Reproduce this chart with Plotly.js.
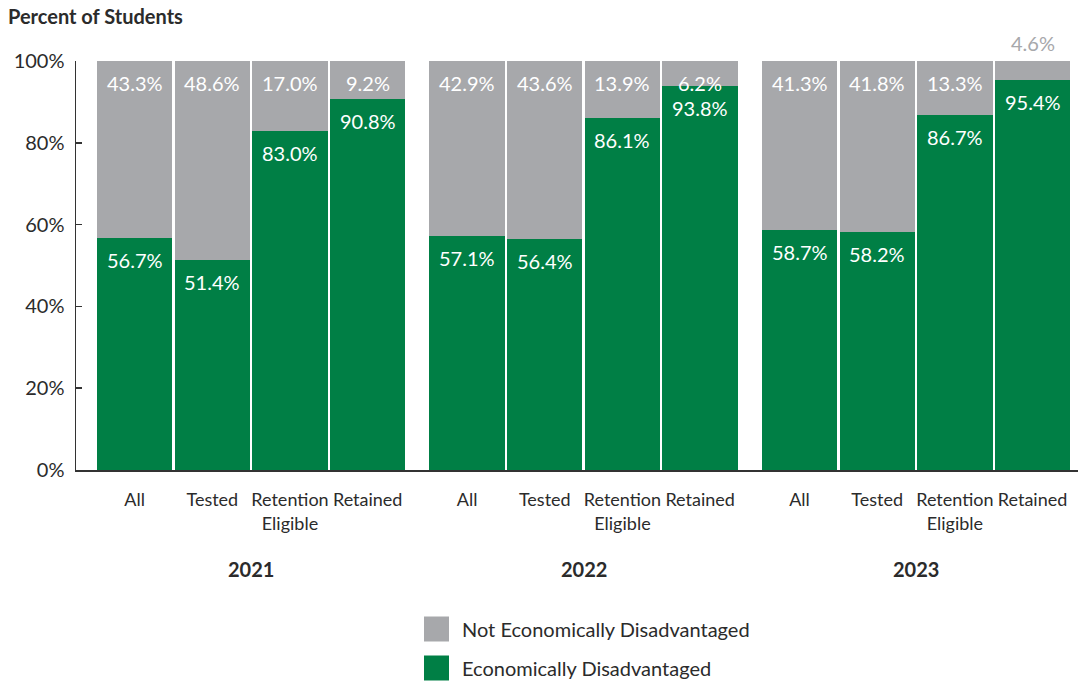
<!DOCTYPE html>
<html><head><meta charset="utf-8">
<script src="https://cdn.plot.ly/plotly-3.0.1.min.js"></script>
<style>html,body{margin:0;padding:0;background:#fff}#chart{width:1078px;height:681px}</style>
</head><body><div id="chart"></div>
<script>
var years = ["2021", "2022", "2023"];
var groups = ["All", "Tested", "Retention<br>Eligible", "Retained"];
var econDis = [56.7, 51.4, 83.0, 90.8, 57.1, 56.4, 86.1, 93.8, 58.7, 58.2, 86.7, 95.4];
var notEconDis = [43.3, 48.6, 17.0, 9.2, 42.9, 43.6, 13.9, 6.2, 41.3, 41.8, 13.3, 4.6];
var seriesNames = ["Economically Disadvantaged", "Not Economically Disadvantaged"];

var GREEN = "#007F45", GRAY = "#A7A8AB", TXT = "#2b2b2b";
var GROUP_STEP = 4.28, BAR_W = 0.97;
var xs = [], ticktext = [];
years.forEach(function (y, g) {
  groups.forEach(function (c, i) { xs.push(g * GROUP_STEP + i); ticktext.push(c); });
});

var traces = [
  {type: "bar", name: seriesNames[0], x: xs, y: econDis, width: BAR_W, marker: {color: GREEN}, showlegend: false, hoverinfo: "y"},
  {type: "bar", name: seriesNames[1], x: xs, y: notEconDis, width: BAR_W, marker: {color: GRAY}, showlegend: false, hoverinfo: "y"}
];

var ann = [];
var FONT = "Lato, 'Open Sans', sans-serif";
var FS = 20;
xs.forEach(function (x, k) {
  ann.push({x: x, y: econDis[k], xref: "x", yref: "y", text: econDis[k].toFixed(1) + "%", showarrow: false,
    yanchor: "top", yshift: -8, font: {family: FONT, size: FS, color: "#ffffff"}});
  var top = econDis[k] + notEconDis[k];
  if (notEconDis[k] < 6) {
    ann.push({x: x, y: top, xref: "x", yref: "y", text: notEconDis[k].toFixed(1) + "%", showarrow: false,
      yanchor: "bottom", yshift: 4, font: {family: FONT, size: FS, color: GRAY}});
  } else {
    ann.push({x: x, y: top, xref: "x", yref: "y", text: notEconDis[k].toFixed(1) + "%", showarrow: false,
      yanchor: "top", yshift: -8, font: {family: FONT, size: FS, color: "#ffffff"}});
  }
});
years.forEach(function (y, g) {
  ann.push({x: g * GROUP_STEP + 1.5, y: -0.242, xref: "x", yref: "paper", text: "<b>" + y + "</b>", showarrow: false,
    yanchor: "middle", font: {family: FONT, size: 20, color: TXT}});
});

// legend (manual)
var L = 76, PW = 1002, T = 61, PH = 409;
function px(x) { return (x - L) / PW; }
function py(y) { return (T + PH - y) / PH; }
var legendItems = [{name: seriesNames[1], color: GRAY, yc: 629}, {name: seriesNames[0], color: GREEN, yc: 668}];
var shapes = [];
legendItems.forEach(function (it) {
  shapes.push({type: "rect", xref: "paper", yref: "paper", x0: px(424), x1: px(449), y0: py(it.yc - 12.5), y1: py(it.yc + 12.5),
    fillcolor: it.color, line: {width: 0}});
  ann.push({xref: "paper", yref: "paper", x: px(460), y: py(it.yc), xanchor: "left", yanchor: "middle", text: it.name,
    showarrow: false, font: {family: FONT, size: 20, color: TXT}});
});

var layout = {
  width: 1078, height: 681,
  margin: {l: 76, r: 0, t: 61, b: 211},
  paper_bgcolor: "#fff", plot_bgcolor: "#fff",
  barmode: "stack", bargap: 0,
  showlegend: false,
  font: {family: FONT, color: TXT},
  title: {text: "<b>Percent of Students</b>", x: 8 / 1078, xanchor: "left", xref: "container", y: 1 - 17 / 681, yanchor: "middle", yref: "container",
    font: {family: FONT, size: 20, color: TXT}},
  xaxis: {range: [-0.755, 12.145], tickvals: xs, ticktext: ticktext, tickangle: 0, showgrid: false, zeroline: false,
    showline: true, linecolor: "#333", linewidth: 1.5, ticks: "", ticklabelstandoff: 13,
    tickfont: {family: FONT, size: 18, color: TXT}, fixedrange: true},
  yaxis: {range: [0, 100], tickvals: [0, 20, 40, 60, 80, 100], ticktext: ["0%", "20%", "40%", "60%", "80%", "100%"],
    showgrid: false, zeroline: false, showline: true, linecolor: "#333", linewidth: 1.5,
    ticks: "inside", ticklen: 6, tickcolor: "#333", tickwidth: 1.5, ticklabelstandoff: 6,
    tickfont: {family: FONT, size: 20, color: TXT}, fixedrange: true},
  annotations: ann,
  shapes: shapes
};
Plotly.newPlot("chart", traces, layout, {displayModeBar: false, staticPlot: true});
</script></body></html>
